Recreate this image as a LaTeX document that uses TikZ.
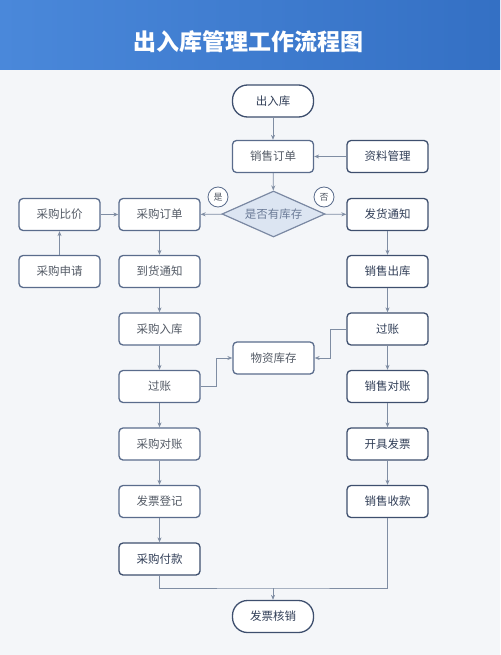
\documentclass[tikz,border=0pt]{standalone}
\usepackage{fontspec}
\setmainfont{Noto Sans CJK SC}
\usetikzlibrary{shapes.geometric,arrows.meta}

\definecolor{boxline}{HTML}{5A6C8C}
\definecolor{boxdark}{HTML}{3E4F6E}
\definecolor{txt}{HTML}{545B66}
\definecolor{conncol}{HTML}{7F8DA3}
\definecolor{diafill}{HTML}{DCE5F2}
\definecolor{bandleft}{HTML}{4A88DA}
\definecolor{bandright}{HTML}{3470C4}
\definecolor{bg}{HTML}{F4F6F9}

\tikzset{
  box/.style={draw=boxline, line width=1.3pt, rounded corners=4pt, fill=white,
    minimum width=81pt, minimum height=32pt, inner sep=0pt, text=txt,
    font=\fontsize{11.5}{12}\selectfont},
  boxd/.style={box, draw=boxdark, text=boxdark!80!black},
  term/.style={boxd, rounded corners=15pt},
  decision/.style={diamond, aspect=2.24, draw=boxline!80, line width=1.2pt, fill=diafill,
    minimum width=103pt, minimum height=46pt, inner sep=0pt, text=boxline!90,
    font=\fontsize{11.5}{12}\selectfont},
  tag/.style={circle, draw=boxline, line width=0.8pt, fill=white, minimum size=20pt,
    inner sep=0pt, text=txt, font=\fontsize{9}{10}\selectfont},
  line/.style={draw=conncol, line width=0.8pt},
  conn/.style={line, -{Stealth[length=5pt,width=4pt]}}
}

\begin{document}
\begin{tikzpicture}[x=1pt,y=-1pt]
  % Sfondo e titolo
  \useasboundingbox (0,0) rectangle (500,655);
  \fill[bg] (0,0) rectangle (500,655);
  \shade[left color=bandleft, right color=bandright] (0,0) rectangle (500,70);
  \node[text=white, font=\fontsize{23}{24}\selectfont\bfseries] (title) at (248,42) {出入库管理工作流程图};

  % Inizio e vendite
  \node[term] (start) at (273,101) {出入库};
  \node[box] (xsdd) at (273,156.5) {销售订单};
  \node[boxd] (zlgl) at (387.5,156.5) {资料管理};
  \node[decision] (kucun) at (273.5,214) {是否有库存};
  \node[tag] (shi) at (218,197) {是};
  \node[tag] (fou) at (324,197) {否};

  % Colonna acquisti
  \node[box] (cgbj) at (59.5,214.5) {采购比价};
  \node[box] (cgsq) at (59.5,271.5) {采购申请};
  \node[box] (cgdd) at (159.5,214.5) {采购订单};
  \node[box] (dhtz) at (159.5,271.5) {到货通知};
  \node[box] (cgrk) at (159.5,329) {采购入库};
  \node[box] (gzL) at (159.5,386.5) {过账};
  \node[box] (cgdz) at (159.5,444) {采购对账};
  \node[box] (fpdj) at (159.5,501.5) {发票登记};
  \node[boxd] (cgfk) at (159.5,559) {采购付款};

  % Colonna vendite
  \node[boxd] (fhtz) at (387.5,214.5) {发货通知};
  \node[boxd] (xsck) at (387.5,271.5) {销售出库};
  \node[boxd] (gzR) at (387.5,329) {过账};
  \node[boxd] (xsdz) at (387.5,386.5) {销售对账};
  \node[boxd] (kjfp) at (387.5,444) {开具发票};
  \node[boxd] (xssk) at (387.5,501.5) {销售收款};

  % Magazzino e fine
  \node[box] (wzkc) at (273.5,358) {物资库存};
  \node[term] (hx) at (273,616.5) {发票核销};
  \coordinate (merge) at (273,588);

  % Collegamenti
  \draw[conn] (start) -- (xsdd);
  \draw[conn] (zlgl) -- (xsdd);
  \draw[conn] (xsdd) -- (kucun);
  \draw[conn] (kucun) -- (cgdd);
  \draw[conn] (kucun) -- (fhtz);
  \draw[conn] (cgbj) -- (cgdd);
  \draw[conn] (cgsq) -- (cgbj);
  \draw[conn] (cgdd) -- (dhtz);
  \draw[conn] (dhtz) -- (cgrk);
  \draw[conn] (cgrk) -- (gzL);
  \draw[conn] (gzL) -- (cgdz);
  \draw[conn] (cgdz) -- (fpdj);
  \draw[conn] (fpdj) -- (cgfk);
  \draw[conn] (fhtz) -- (xsck);
  \draw[conn] (xsck) -- (gzR);
  \draw[conn] (gzR) -- (xsdz);
  \draw[conn] (xsdz) -- (kjfp);
  \draw[conn] (kjfp) -- (xssk);
  \draw[conn] (gzL.east) -- ++(16,0) |- (wzkc.west);
  \draw[conn] (gzR.west) -- ++(-16,0) |- (wzkc.east);
  \draw[line] (cgfk.south) |- (merge) -| (xssk.south);
  \draw[conn] (merge) -- (hx);
\end{tikzpicture}
\end{document}
